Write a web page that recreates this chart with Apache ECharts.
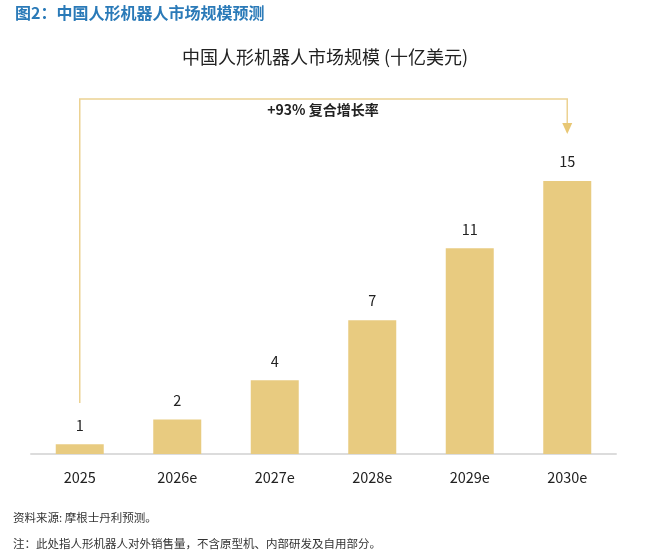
<!DOCTYPE html>
<html>
<head>
<meta charset="utf-8">
<script src="https://cdn.jsdelivr.net/npm/echarts@6/dist/echarts.min.js"></script>
<style>
  html, body { margin: 0; padding: 0; background: #fff; }
  #chart { width: 650px; height: 557px; }
</style>
</head>
<body>
<div id="chart"></div>
<script>
"use strict";
const years = ['2025', '2026e', '2027e', '2028e', '2029e', '2030e'];
const marketSize = [0.53, 1.9, 4.05, 7.35, 11.3, 15.0];
const shownLabels = ['1', '2', '4', '7', '11', '15'];

const FONT = '"Noto Sans CJK SC", "Noto Sans", sans-serif';
const GOLD = '#e8cb80';

const myChart = echarts.init(document.getElementById('chart'));
const option = {
    animation: false,
    textStyle: { fontFamily: FONT },
    grid: { left: 31, right: 34, top: 90, bottom: 103 },
    xAxis: {
        type: 'category',
        data: years,
        axisTick: { show: false },
        axisLine: { lineStyle: { color: '#dcdcdc', width: 2 } },
        axisLabel: { color: '#222', fontSize: 14.5, margin: 16, fontFamily: FONT }
    },
    yAxis: {
        type: 'value',
        min: 0,
        max: 20,
        show: false,
        splitLine: { show: false }
    },
    series: [
        {
            type: 'bar',
            data: marketSize,
            barWidth: 48,
            itemStyle: { color: GOLD },
            label: {
                show: true,
                position: 'top',
                distance: 12,
                color: '#222',
                fontSize: 14.5,
                fontFamily: FONT,
                formatter: p => shownLabels[p.dataIndex]
            }
        }
    ]
};
myChart.setOption(option);

// bracket arrow over the bars, placed from the category positions
const xFirst = myChart.convertToPixel({ gridIndex: 0 }, [0, 0])[0];
const xLast = myChart.convertToPixel({ gridIndex: 0 }, [years.length - 1, 0])[0];
const yTop = 99;
const lineStyle = { stroke: '#ecd292', lineWidth: 1.5 };

myChart.setOption({
    graphic: [
        {
            type: 'text', left: 15, top: 5,
            style: { text: '图2：中国人形机器人市场规模预测', fill: '#2a7ab8', font: 'bold 16px ' + FONT }
        },
        {
            type: 'text', x: 325, y: 57,
            style: { text: '中国人形机器人市场规模 (十亿美元)', fill: '#222', font: '18px ' + FONT, align: 'center', verticalAlign: 'middle' }
        },
        {
            type: 'polyline',
            shape: { points: [[xFirst, 403], [xFirst, yTop], [xLast, yTop], [xLast, 124]] },
            style: lineStyle
        },
        {
            type: 'polygon',
            shape: { points: [[xLast - 5, 123], [xLast + 5, 123], [xLast, 134]] },
            style: { fill: '#e8c774' }
        },
        {
            type: 'text', x: 323, y: 110,
            style: { text: '+93% 复合增长率', fill: '#222', font: 'bold 14px ' + FONT, align: 'center', verticalAlign: 'middle' }
        },
        {
            type: 'text', left: 13, top: 512,
            style: { text: '资料来源: 摩根士丹利预测。', fill: '#333', font: '11.5px ' + FONT }
        },
        {
            type: 'text', left: 13, top: 538,
            style: { text: '注：此处指人形机器人对外销售量，不含原型机、内部研发及自用部分。', fill: '#333', font: '11.5px ' + FONT }
        }
    ]
});
</script>
</body>
</html>
